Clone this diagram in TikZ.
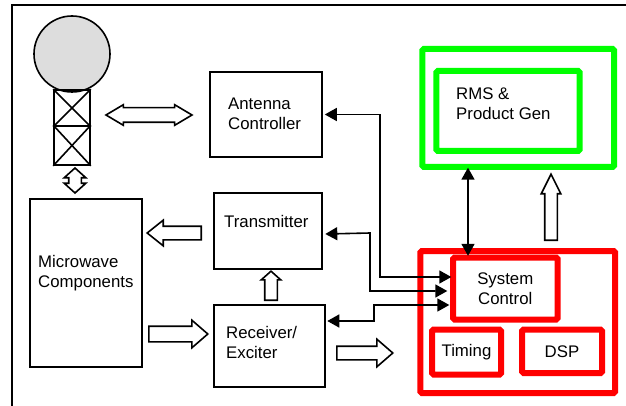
\documentclass[tikz,border=0pt]{standalone}
\usepackage{fontspec}
\setmainfont{Liberation Sans}
\usetikzlibrary{arrows.meta,shapes.arrows}
\definecolor{dishgray}{RGB}{221,221,221}
\definecolor{sysred}{RGB}{255,0,0}
\definecolor{sysgreen}{RGB}{0,255,0}
\tikzset{
  box/.style={draw,line width=1.6pt,inner sep=0pt},
  redbox/.style={draw=sysred,line width=6pt,rounded corners=1.5pt,inner sep=0pt,align=center},
  greenbox/.style={draw=sysgreen,line width=6pt,rounded corners=1.5pt,inner sep=0pt},
  txt/.style={inner sep=0pt,anchor=west,align=left},
  link/.style={line width=1.6pt,{Triangle[length=12pt,width=13pt]}-{Triangle[length=12pt,width=13pt]}},
  blockarrow/.style n args={3}{draw,line width=1.6pt,shape=single arrow,anchor=tail,inner sep=#1,
    single arrow head extend=#2-#1,single arrow head indent=0pt,
    single arrow tip angle={2*atan(#2/#3)},minimum width=0pt},
  twoway/.style n args={3}{draw,line width=1.6pt,shape=double arrow,inner sep=#1,
    double arrow head extend=#2-#1,double arrow head indent=0pt,
    double arrow tip angle={2*atan(#2/#3)},minimum width=0pt},
}
\begin{document}
\begin{tikzpicture}[x=1pt,y=-1pt,font=\fontsize{16.8}{20}\selectfont]
  \useasboundingbox (0,0) rectangle (626,406);
  \coordinate (framebl) at (12,406);
  \coordinate (frametl) at (12,5);
  \coordinate (frametr) at (626,5);
  \draw[line width=2pt] (framebl) -- (frametl) -- (frametr);

  \node[draw,line width=1.6pt,circle,fill=dishgray,minimum size=76,inner sep=0pt] (dish) at (72,54) {};
  \node[box,minimum width=36,minimum height=36] (towera) at (72,108) {};
  \node[box,minimum width=36,minimum height=39] (towerb) at (72,145.5) {};
  \draw[line width=1.6pt] (towera.north west) -- (towera.south east);
  \draw[line width=1.6pt] (towera.north east) -- (towera.south west);
  \draw[line width=1.6pt] (towerb.north west) -- (towerb.south east);
  \draw[line width=1.6pt] (towerb.north east) -- (towerb.south west);

  \node[box,minimum width=112,minimum height=168] (microwave) at (86,283) {};
  \node[box,minimum width=112,minimum height=85] (antenna) at (266,114.5) {};
  \node[box,minimum width=108,minimum height=76] (transmitter) at (268,231) {};
  \node[box,minimum width=111,minimum height=82] (receiver) at (269.5,346) {};
  \node[txt] (microwavetxt) at (38,273.5) {Microwave\\Components};
  \node[txt] (antennatxt) at (228,114) {Antenna\\Controller};
  \node[txt] (transmittertxt) at (224,221.5) {Transmitter};
  \node[txt] (receivertxt) at (226,342) {Receiver/\\Exciter};

  \node[greenbox,minimum width=191.7,minimum height=118] (rmsouter) at (518.2,108) {};
  \node[greenbox,minimum width=143.4,minimum height=80] (rmsinner) at (508,111) {};
  \node[txt] (rmstxt) at (456,103.5) {RMS \&\\Product Gen};

  \node[redbox,minimum width=194.7,minimum height=142] (dspouter) at (517.7,322) {};
  \node[redbox,minimum width=104.5,minimum height=62] (system) at (505.25,288.5) {System\\Control};
  \node[redbox,minimum width=69,minimum height=45] (timing) at (466.5,352) {Timing};
  \node[redbox,minimum width=80,minimum height=43.5] (dsp) at (562,351.25) {DSP};

  \node[twoway={6.5pt}{9.5pt}{16},minimum height=86] (dishlink) at (149,115) {};
  \node[twoway={5.5pt}{10pt}{9},minimum height=25,rotate=90] (feedlink) at (75,180.5) {};
  \node[blockarrow={6pt}{12pt}{15},minimum height=54,rotate=180] (txout) at (202,233) {};
  \node[blockarrow={7pt}{13pt}{15},minimum height=59] (rxin) at (148,334) {};
  \node[blockarrow={5.5pt}{9pt}{8},minimum height=29,rotate=90] (rxtx) at (271,301) {};
  \node[blockarrow={6pt}{13pt}{15},minimum height=56] (rxout) at (336,353) {};
  \node[blockarrow={5.5pt}{9pt}{18},minimum height=66,rotate=90] (prodout) at (551,241) {};

  \coordinate (bendant) at (380,114.5);
  \coordinate (bendtx) at (370,233);
  \coordinate (bendrx) at (374,321);
  \coordinate (linkx) at (468,212);
  \draw[link] ([xshift=2pt]antenna.east) -- (bendant) |- ([xshift=1.3pt,yshift=11.5pt]system.west);
  \draw[link] ([xshift=2.5pt,yshift=-3pt]transmitter.east) -- (bendtx) |- ([xshift=-2.7pt,yshift=-2.5pt]system.west);
  \draw[link] ([xshift=1.5pt,yshift=25pt]receiver.east) -- (bendrx) |- ([xshift=-0.7pt,yshift=-16.5pt]system.west);
  \draw[link] ([yshift=2.3pt]rmsouter.south -| linkx) -- ([yshift=-1.3pt]system.north -| linkx);
\end{tikzpicture}
\end{document}
